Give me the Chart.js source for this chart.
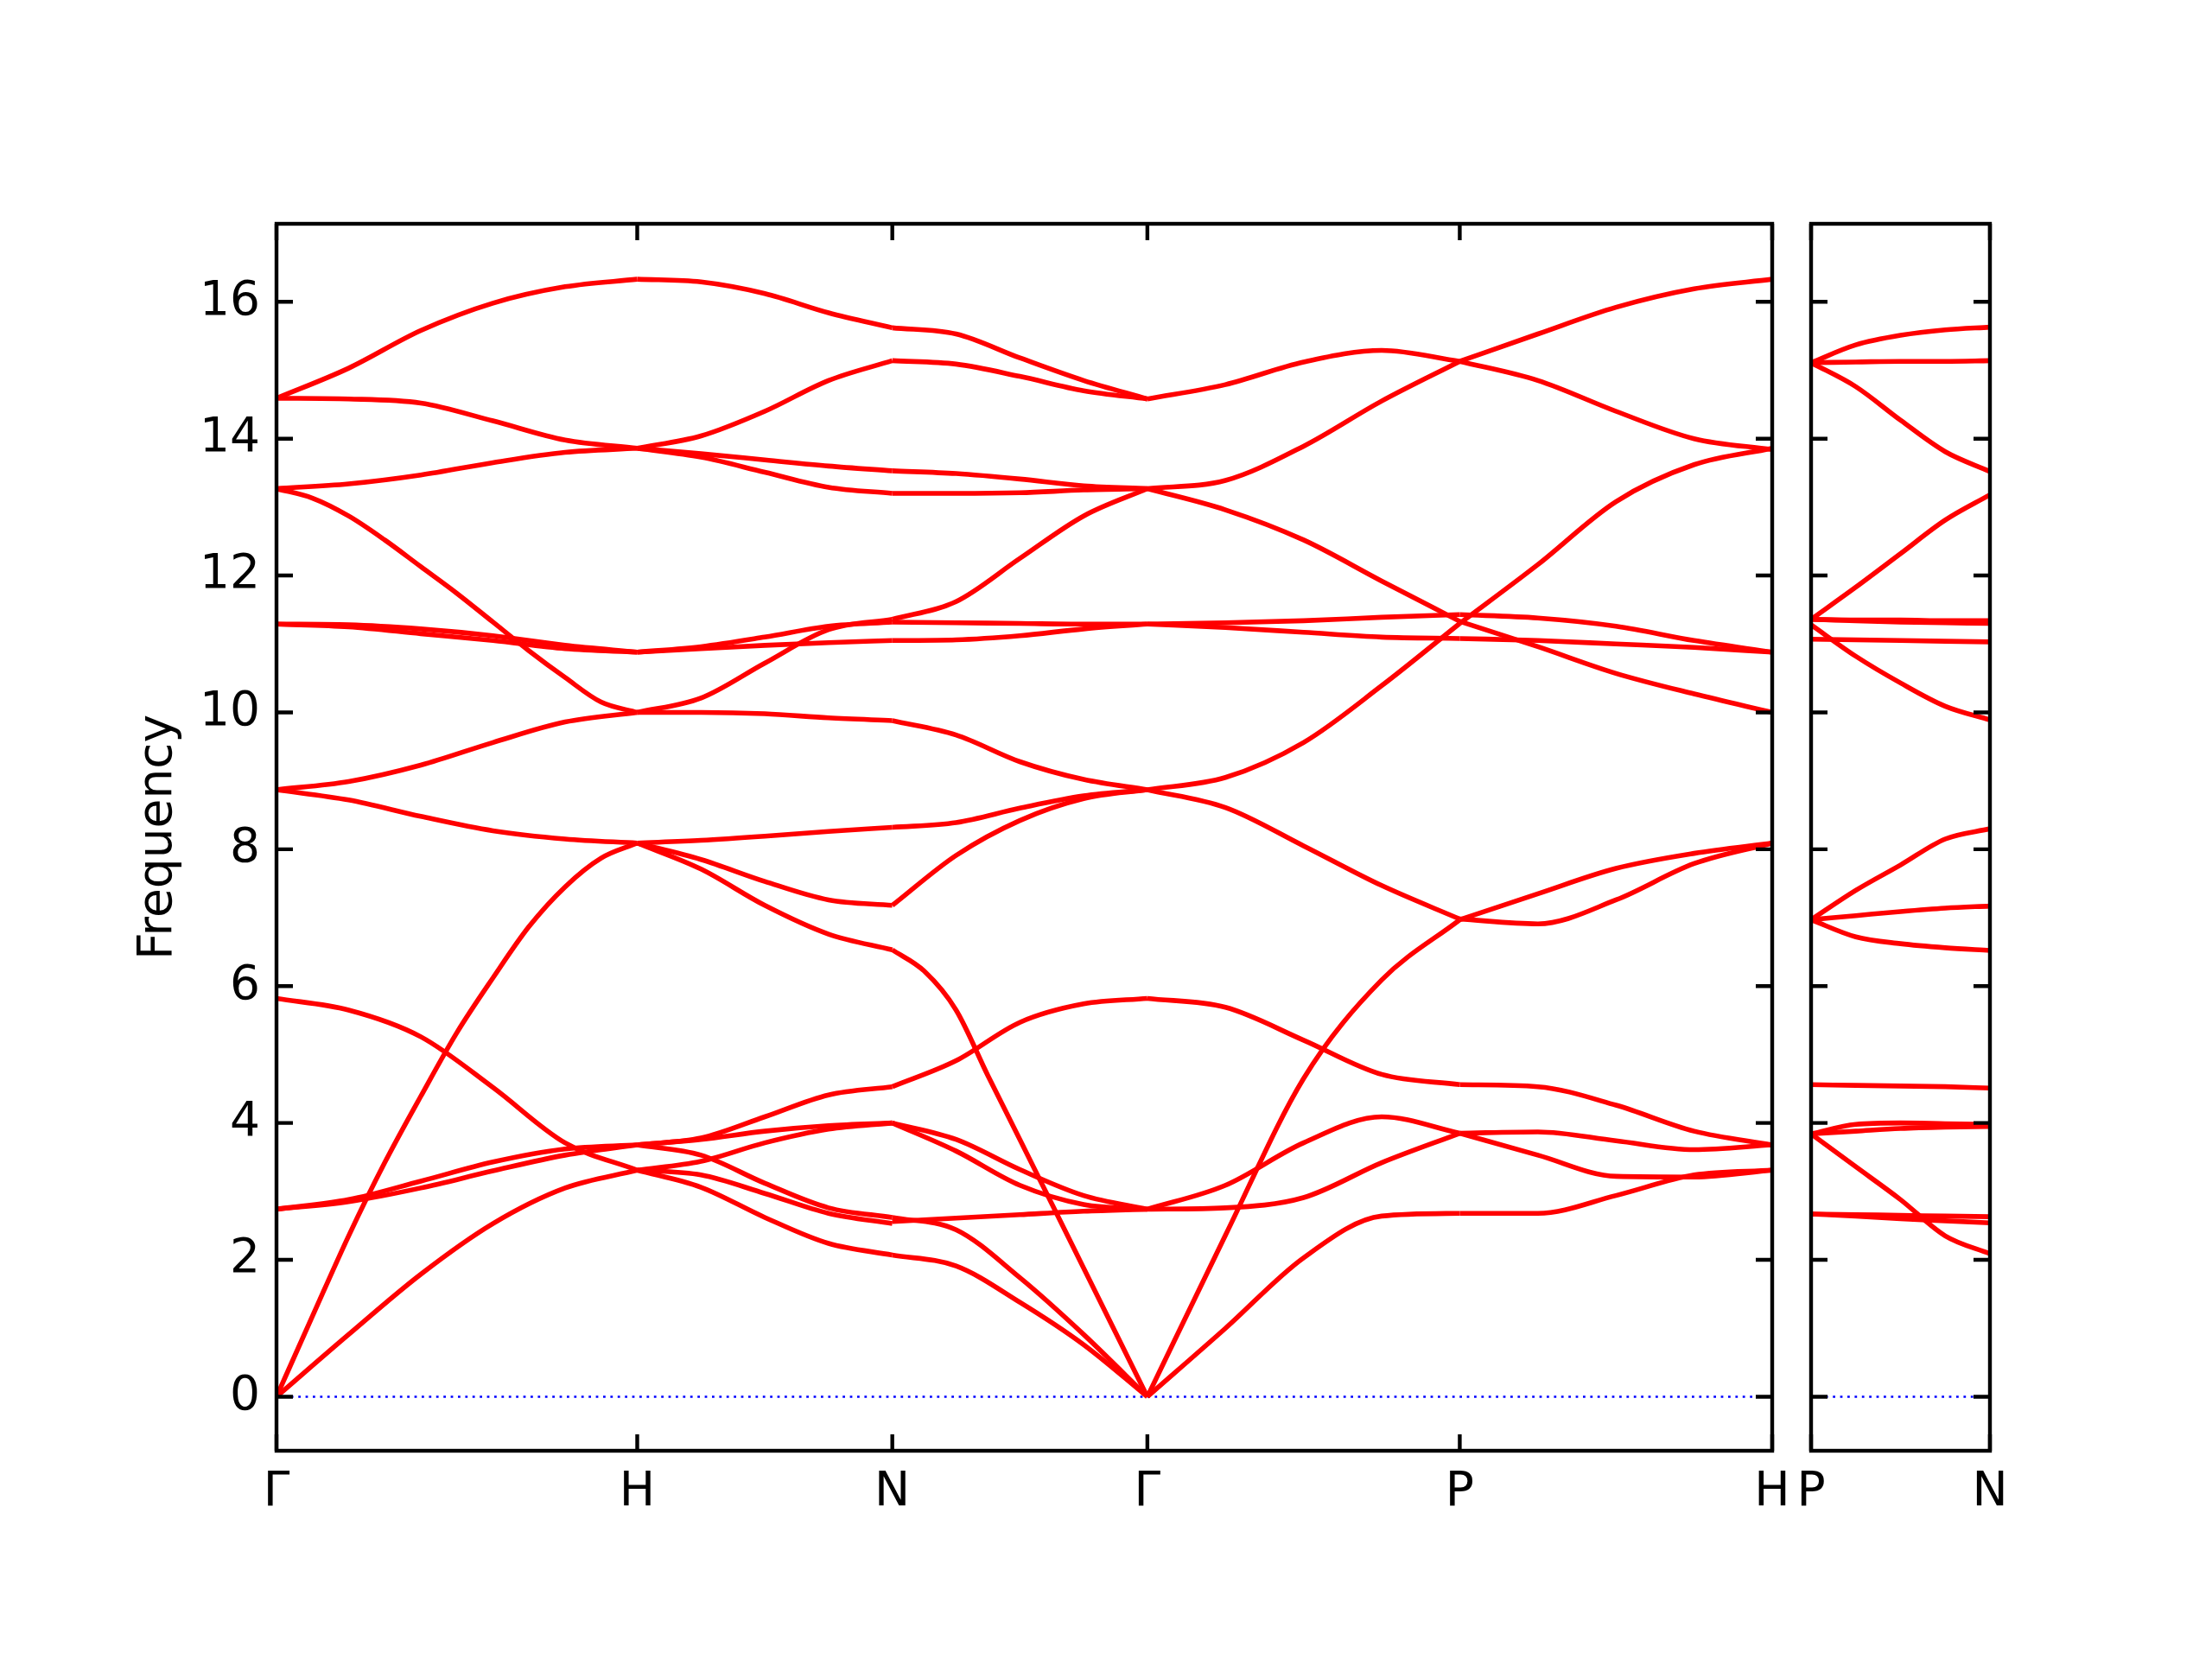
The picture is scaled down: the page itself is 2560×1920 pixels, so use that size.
<!DOCTYPE html>
<html><head><meta charset="utf-8">
<script src="https://cdn.jsdelivr.net/npm/chart.js@4/dist/chart.umd.min.js"></script>
<style>
html,body{margin:0;padding:0;background:#fff;}
#wrap{position:relative;width:2560px;height:1920px;background:#fff;}
canvas{position:absolute;left:0;top:0;}
</style>
</head><body>
<div id="wrap"><canvas id="c1" width="2560" height="1920"></canvas><canvas id="c2" width="2560" height="1920"></canvas></div>
<script>
// High-symmetry path (cumulative distance) and labels
const kPath = [0, 1, 1.7071, 2.4142, 3.2802, 4.1463];
const kLabels = ['Γ', 'H', 'N', 'Γ', 'P', 'H'];
const kPath2 = [0, 0.5];
const kLabels2 = ['P', 'N'];
const yTicks = [0, 2, 4, 6, 8, 10, 12, 14, 16];
const yMin = -0.79, yMax = 17.14;

// Band frequencies, sampled at evenly spaced points along each segment
const bandsGH = [
  [14.59, 15.03, 15.58, 15.98, 16.22, 16.33],
  [14.59, 14.58, 14.52, 14.26, 13.98, 13.86],
  [13.27, 13.34, 13.47, 13.65, 13.80, 13.86],
  [13.27, 13.13, 12.87, 12.52, 12.13, 11.74, 11.32, 10.90, 10.51, 10.15, 10.00],
  [11.29, 11.28, 11.22, 11.12, 10.98, 10.88],
  [11.29, 11.25, 11.15, 11.05, 10.93, 10.88],
  [8.87, 8.99, 9.23, 9.56, 9.86, 10.00],
  [8.87, 8.72, 8.48, 8.27, 8.15, 8.09],
  [0.00, 1.18, 2.35, 3.42, 4.39, 5.32, 6.12, 6.87, 7.45, 7.87, 8.09],
  [0.00, 0.91, 1.79, 2.53, 3.05, 3.31],
  [5.82, 5.65, 5.26, 4.52, 3.71, 3.31],
  [2.74, 2.88, 3.15, 3.43, 3.62, 3.68],
  [2.74, 2.85, 3.05, 3.30, 3.53, 3.68]
];
const bandsHN = [
  [16.33, 16.29, 16.12, 15.84, 15.62],
  [13.86, 14.04, 14.40, 14.85, 15.14],
  [13.86, 13.78, 13.69, 13.60, 13.53],
  [13.86, 13.73, 13.51, 13.29, 13.20],
  [10.88, 10.96, 11.10, 11.26, 11.32],
  [10.88, 10.93, 10.98, 11.02, 11.05],
  [10.00, 10.21, 10.72, 11.21, 11.36],
  [10.00, 10.00, 9.98, 9.92, 9.88],
  [8.09, 8.13, 8.19, 8.26, 8.32],
  [8.09, 7.85, 7.53, 7.26, 7.18],
  [8.09, 7.71, 7.18, 6.76, 6.53],
  [3.68, 3.78, 4.09, 4.41, 4.53],
  [3.68, 3.76, 3.88, 3.96, 4.00],
  [3.31, 3.44, 3.71, 3.91, 4.00],
  [3.68, 3.53, 3.12, 2.76, 2.62],
  [3.31, 3.24, 2.97, 2.68, 2.53],
  [3.31, 3.06, 2.62, 2.24, 2.07]
];
const bandsNG = [
  [15.62, 15.53, 15.18, 14.85, 14.58],
  [15.14, 15.09, 14.91, 14.70, 14.58],
  [13.53, 13.49, 13.41, 13.31, 13.27],
  [13.20, 13.20, 13.21, 13.25, 13.27],
  [11.36, 11.62, 12.25, 12.87, 13.27],
  [11.32, 11.31, 11.30, 11.29, 11.29],
  [11.05, 11.06, 11.12, 11.22, 11.29],
  [9.88, 9.67, 9.28, 9.02, 8.87],
  [8.32, 8.39, 8.60, 8.78, 8.87],
  [7.18, 7.91, 8.42, 8.74, 8.87],
  [6.53, 6.22, 5.65, 4.69, 3.76, 2.82, 1.88, 0.94, 0.00],
  [4.53, 4.91, 5.47, 5.74, 5.82],
  [4.00, 3.76, 3.32, 2.94, 2.74],
  [4.00, 3.59, 3.09, 2.81, 2.74],
  [2.56, 2.61, 2.66, 2.71, 2.74],
  [2.62, 2.44, 1.74, 0.91, 0.00],
  [2.07, 1.91, 1.38, 0.76, 0.00]
];
const bandsGP = [
  [14.58, 14.79, 15.12, 15.29, 15.13],
  [13.27, 13.39, 13.89, 14.55, 15.13],
  [13.27, 12.96, 12.52, 11.92, 11.33],
  [8.87, 9.05, 9.56, 10.39, 11.30],
  [11.29, 11.31, 11.34, 11.39, 11.43],
  [11.29, 11.24, 11.17, 11.10, 11.08],
  [8.87, 8.61, 8.05, 7.47, 6.98],
  [0.00, 2.36, 4.65, 6.09, 6.97],
  [5.82, 5.69, 5.21, 4.71, 4.56],
  [2.74, 3.09, 3.71, 4.09, 3.85],
  [2.74, 2.76, 2.91, 3.42, 3.85],
  [0.00, 1.00, 2.03, 2.64, 2.68]
];
const bandsPH = [
  [15.13, 15.53, 15.92, 16.19, 16.33],
  [15.13, 14.85, 14.40, 14.00, 13.84],
  [11.30, 12.16, 13.08, 13.62, 13.86],
  [11.33, 10.96, 10.57, 10.27, 10.00],
  [11.43, 11.38, 11.26, 11.05, 10.88],
  [11.08, 11.05, 11.00, 10.95, 10.88],
  [6.97, 7.35, 7.72, 7.94, 8.09],
  [6.98, 6.91, 7.26, 7.79, 8.09],
  [4.56, 4.53, 4.26, 3.88, 3.68],
  [3.85, 3.87, 3.74, 3.61, 3.68],
  [3.85, 3.53, 3.22, 3.21, 3.31],
  [2.68, 2.68, 2.94, 3.24, 3.31]
];
const bandsPN = [
  [15.11, 15.37, 15.51, 15.59, 15.63],
  [15.11, 15.12, 15.13, 15.13, 15.14],
  [15.11, 14.76, 14.27, 13.81, 13.52],
  [11.36, 11.83, 12.32, 12.81, 13.18],
  [11.36, 11.35, 11.35, 11.34, 11.34],
  [11.36, 11.34, 11.32, 11.31, 11.30],
  [11.07, 11.06, 11.05, 11.04, 11.03],
  [11.28, 10.82, 10.43, 10.09, 9.89],
  [6.97, 7.40, 7.77, 8.15, 8.30],
  [6.97, 7.03, 7.09, 7.14, 7.17],
  [6.97, 6.72, 6.62, 6.56, 6.52],
  [4.56, 4.55, 4.54, 4.53, 4.51],
  [3.84, 3.98, 4.00, 3.99, 3.98],
  [3.84, 3.88, 3.92, 3.94, 3.95],
  [3.84, 3.36, 2.88, 2.35, 2.09],
  [2.67, 2.66, 2.65, 2.64, 2.63],
  [2.67, 2.64, 2.60, 2.57, 2.54]
];

const FONT = {family: 'DejaVu Sans', size: 55};
const RED = '#ff0000';

function segSets(bands, x0, x1) {
  return bands.map(v => ({
    data: v.map((y, i) => ({x: x0 + (x1 - x0) * i / (v.length - 1), y: y})),
    borderColor: RED, borderWidth: 5.6, pointRadius: 0, fill: false,
    cubicInterpolationMode: 'monotone', order: 0
  }));
}
function zeroLine(x0, x1) {
  return {data: [{x: x0, y: 0}, {x: x1, y: 0}], borderColor: '#0000ff', borderWidth: 2.6,
    borderDash: [2.8, 5.6], pointRadius: 0, fill: false, order: 1};
}

const framePlugin = {
  id: 'frame',
  afterDatasetsDraw(chart, args, opts) {
    const ctx = chart.ctx, a = chart.chartArea, x = chart.scales.x, y = chart.scales.y;
    const L = 19;
    ctx.save();
    ctx.strokeStyle = '#000'; ctx.lineWidth = 4.4; ctx.lineCap = 'butt';
    ctx.beginPath();
    opts.yt.forEach(v => { const p = y.getPixelForValue(v);
      ctx.moveTo(a.left, p); ctx.lineTo(a.left + L, p);
      ctx.moveTo(a.right, p); ctx.lineTo(a.right - L, p); });
    opts.xt.forEach(v => { const p = x.getPixelForValue(v);
      ctx.moveTo(p, a.bottom); ctx.lineTo(p, a.bottom - L);
      ctx.moveTo(p, a.top); ctx.lineTo(p, a.top + L); });
    ctx.stroke();
    ctx.strokeRect(a.left, a.top, a.right - a.left, a.bottom - a.top);
    ctx.restore();
  }
};

function makeChart(id, datasets, xt, xl, xmax, leftW, rightPad, showY) {
  return new Chart(document.getElementById(id), {
    type: 'line',
    data: {datasets: datasets},
    options: {
      responsive: false, animation: false, devicePixelRatio: 1, events: [],
      layout: {padding: {top: 259, right: rightPad, left: 0, bottom: 0}},
      plugins: {legend: {display: false}, tooltip: {enabled: false}, frame: {yt: yTicks, xt: xt}},
      scales: {
        x: {
          type: 'linear', min: 0, max: xmax,
          afterBuildTicks: s => { s.ticks = xt.map(v => ({value: v})); },
          ticks: {callback: (v, i) => xl[i], font: FONT, color: '#000', padding: 16,
                  maxRotation: 0, autoSkip: false},
          grid: {display: false, drawTicks: false}, border: {display: false},
          afterFit: s => { s.height = 241; }
        },
        y: {
          type: 'linear', min: yMin, max: yMax,
          afterBuildTicks: s => { s.ticks = yTicks.map(v => ({value: v})); },
          ticks: {display: showY, callback: v => String(v), font: FONT, color: '#000', padding: 19},
          grid: {display: false, drawTicks: false}, border: {display: false},
          title: {display: showY, text: 'Frequency', font: FONT, color: '#000', padding: {top: 151, bottom: 0}},
          afterFit: s => { s.width = leftW; }
        }
      }
    },
    plugins: [framePlugin]
  });
}

const ds1 = [].concat(
  segSets(bandsGH, kPath[0], kPath[1]),
  segSets(bandsHN, kPath[1], kPath[2]),
  segSets(bandsNG, kPath[2], kPath[3]),
  segSets(bandsGP, kPath[3], kPath[4]),
  segSets(bandsPH, kPath[4], kPath[5]),
  [zeroLine(kPath[0], kPath[5])]
);
const ds2 = [].concat(segSets(bandsPN, kPath2[0], kPath2[1]), [zeroLine(kPath2[0], kPath2[1])]);

makeChart('c1', ds1, kPath, kLabels, kPath[5], 320, 509, true);
makeChart('c2', ds2, kPath2, kLabels2, kPath2[1], 2096, 257, false);
</script>
</body></html>
